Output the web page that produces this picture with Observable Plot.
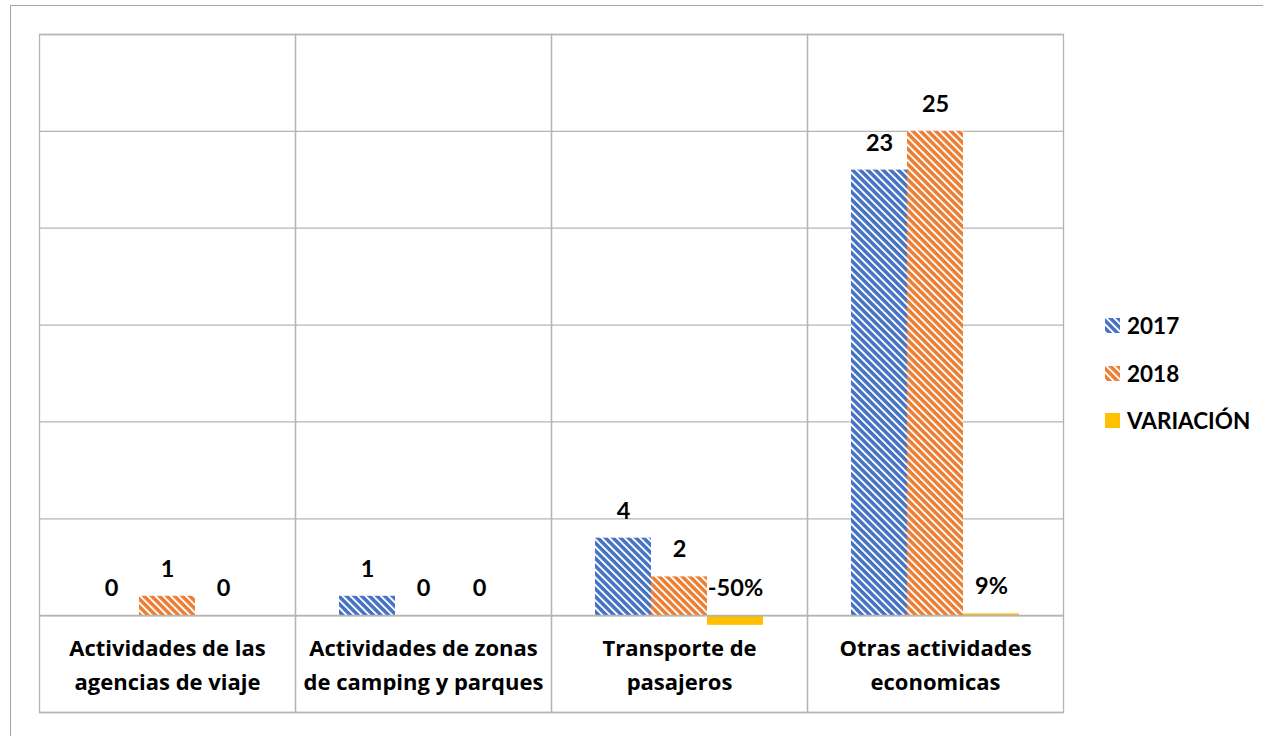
<!DOCTYPE html>
<html>
<head>
<meta charset="utf-8">
<script src="https://cdn.jsdelivr.net/npm/d3@7"></script>
<script src="https://cdn.jsdelivr.net/npm/@observablehq/plot@0.6"></script>
<style>
  body { margin: 0; background: #fff; font-family: Lato, "Open Sans", sans-serif; }
  #wrap { position: relative; width: 1263px; height: 736px; overflow: hidden; }
  #border { position: absolute; left: 10px; top: 5px; width: 1300px; height: 800px; border: 1px solid #a6a6a6; box-sizing: border-box; }
  #legend { position: absolute; left: 1105px; top: 302px; font-weight: bold; font-size: 22.5px; color: #000; }
  .item { display: flex; align-items: center; height: 47.5px; }
  .item svg { margin-right: 7px; }
</style>
</head>
<body>
<div id="wrap">
  <div id="border"></div>
  <div id="chart"></div>
  <div id="legend"></div>
</div>
<script>
const categories = [
  "Actividades de las\nagencias de viaje",
  "Actividades de zonas\nde camping y parques",
  "Transporte de\npasajeros",
  "Otras actividades\neconomicas"
];
const series = ["2017", "2018", "VARIACIÓN"];
const values2017 = [0, 1, 4, 23];
const values2018 = [1, 0, 2, 25];
const valuesVariation = [0, 0, -0.5, 0.09];
const labels2017 = ["0", "1", "4", "23"];
const labels2018 = ["1", "0", "2", "25"];
const labelsVariation = ["0", "0", "-50%", "9%"];
const gridTicks = [-5, 0, 5, 10, 15, 20, 25, 30];
const fills = {"2017": "url(#hatchBlue)", "2018": "url(#hatchOrange)", "VARIACIÓN": "#FFC000"};

const rows = [];
categories.forEach((c, i) => {
  rows.push({cat: c, series: "2017", value: values2017[i], label: labels2017[i]});
  rows.push({cat: c, series: "2018", value: values2018[i], label: labels2018[i]});
  rows.push({cat: c, series: "VARIACIÓN", value: valuesVariation[i], label: labelsVariation[i]});
});

const plot = Plot.plot({
  width: 1263,
  height: 736,
  marginLeft: 38,
  marginRight: 200,
  marginTop: 34,
  marginBottom: 24,
  style: {fontFamily: "Lato, 'Open Sans', sans-serif", background: "transparent"},
  fx: {domain: categories, padding: 0, axis: null},
  x: {domain: series, paddingInner: 0, paddingOuter: 0.75, axis: null},
  y: {domain: [-5, 30], axis: null},
  color: {type: "identity"},
  marks: [
    Plot.ruleY(gridTicks, {stroke: "#b4b4b4", strokeWidth: 1.3}),
    Plot.frame({stroke: "#b4b4b4", strokeWidth: 1.3}),
    Plot.barY(rows, {fx: "cat", x: "series", y: "value", fill: d => fills[d.series], inset: 0}),
    Plot.ruleY([0], {stroke: "#b4b4b4", strokeWidth: 1.8}),
    Plot.text(rows, {fx: "cat", x: "series", y: d => Math.max(d.value, 0), text: "label", dy: -27, fontSize: 23.5, fontWeight: "bold", fill: "#000"}),
    Plot.text(categories, {fx: d => d, y: -2.55, dy: -3, text: d => d, fontSize: 22, fontFamily: "'Open Sans', Lato, sans-serif", fontWeight: "bold", fill: "#000", lineHeight: 1.55})
  ]
});

const defs = `<defs>
  <pattern id="hatchBlue" patternUnits="userSpaceOnUse" width="5.4" height="5.4" patternTransform="rotate(-45)">
    <rect width="5.4" height="5.4" fill="#4472C4"/><rect width="1.9" height="5.4" fill="#fff"/>
  </pattern>
  <pattern id="hatchOrange" patternUnits="userSpaceOnUse" width="5.4" height="5.4" patternTransform="rotate(-45)">
    <rect width="5.4" height="5.4" fill="#ED7D31"/><rect width="1.9" height="5.4" fill="#fff"/>
  </pattern>
</defs>`;
plot.insertAdjacentHTML("afterbegin", defs);
document.getElementById("chart").appendChild(plot);

const legend = document.getElementById("legend");
series.forEach(s => {
  const div = document.createElement("div");
  div.className = "item";
  div.innerHTML = `<svg width="15" height="15"><rect width="15" height="15" fill="${fills[s]}"/></svg><span>${s}</span>`;
  legend.appendChild(div);
});
</script>
</body>
</html>
